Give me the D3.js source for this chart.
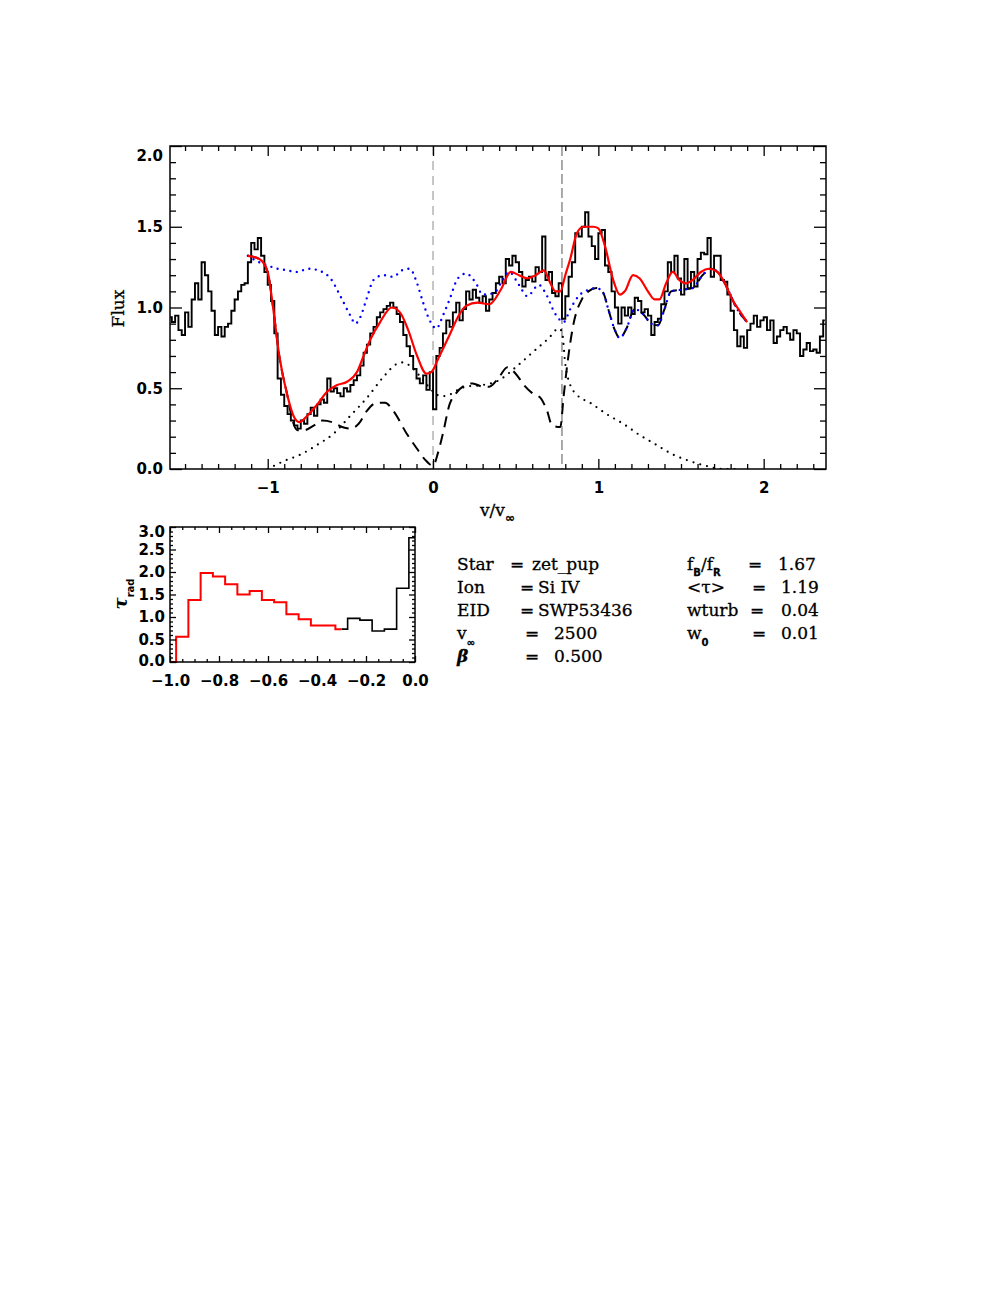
<!DOCTYPE html>
<html><head><meta charset="utf-8">
<script src="https://cdn.jsdelivr.net/npm/d3@7"></script>
<style>body{margin:0;background:#fff}</style>
</head><body>
<svg id="c" width="997" height="1290" xmlns="http://www.w3.org/2000/svg"></svg>
<script>
// ---------------- DATA ----------------
// observed spectrum: regular velocity grid starting at specStart with step specStep
const specStart = -1.59, specStep = 0.02;
const specFlux = [
0.94,0.91,0.95,0.86,0.83,0.97,0.88,1.05,1.15,1.05,
1.28,1.20,1.10,0.98,0.83,0.88,0.82,0.88,0.90,0.98,
1.05,1.10,1.14,1.15,1.28,1.40,1.36,1.43,1.32,1.22,
1.14,1.04,0.84,0.56,0.46,0.39,0.34,0.30,0.27,0.25,
0.30,0.28,0.34,0.38,0.33,0.40,0.43,0.41,0.56,0.48,
0.50,0.47,0.45,0.50,0.48,0.52,0.55,0.58,0.64,0.72,
0.77,0.84,0.88,0.94,0.97,0.99,1.01,1.03,1.00,0.96,
0.91,0.83,0.76,0.70,0.62,0.56,0.53,0.58,0.49,0.60,
0.37,0.70,0.75,0.84,0.92,0.88,0.97,1.03,0.92,0.99,
1.10,1.05,1.11,1.06,1.03,1.07,0.98,1.05,1.09,1.15,
1.19,1.15,1.30,1.26,1.32,1.28,1.22,1.13,1.17,1.19,
1.16,1.25,1.22,1.44,1.17,1.22,1.09,1.07,1.15,0.93,
1.07,1.19,1.28,1.46,1.44,1.50,1.59,1.44,1.38,1.30,
1.46,1.48,1.26,1.22,1.10,1.00,0.90,1.00,0.95,1.00,
0.96,1.06,1.04,0.97,0.99,0.95,0.83,0.91,0.93,1.02,
1.10,1.28,1.22,1.32,1.18,1.08,1.30,1.12,1.22,1.13,
1.30,1.34,1.33,1.43,1.19,1.32,1.32,1.17,1.16,1.08,
0.98,0.86,0.76,0.82,0.75,0.86,0.90,0.95,0.88,0.92,
0.94,0.86,0.92,0.78,0.82,0.86,0.88,0.84,0.80,0.86,
0.84,0.70,0.74,0.78,0.73,0.74,0.72,0.82,0.92
];
// model fit (red)
const modelV = [-1.12,-1.05,-1.00,-0.97,-0.93,-0.88,-0.84,-0.81,-0.76,-0.70,-0.64,-0.58,-0.52,-0.46,-0.42,-0.38,-0.32,-0.25,-0.20,-0.15,-0.10,-0.04,-0.01,0.03,0.10,0.15,0.20,0.27,0.34,0.41,0.47,0.52,0.57,0.62,0.67,0.71,0.74,0.77,0.80,0.83,0.87,0.91,0.97,1.00,1.04,1.09,1.13,1.16,1.21,1.25,1.30,1.34,1.37,1.41,1.45,1.49,1.53,1.57,1.62,1.67,1.72,1.76,1.81,1.86,1.90];
const modelFlux = [1.32,1.30,1.22,1.02,0.70,0.45,0.32,0.29,0.33,0.40,0.48,0.52,0.54,0.60,0.70,0.80,0.91,1.00,0.97,0.86,0.71,0.59,0.60,0.68,0.83,0.94,1.01,1.03,1.02,1.11,1.22,1.20,1.18,1.20,1.23,1.15,1.10,1.10,1.20,1.30,1.46,1.50,1.50,1.49,1.38,1.17,1.08,1.10,1.20,1.18,1.10,1.05,1.05,1.15,1.22,1.17,1.15,1.17,1.22,1.24,1.22,1.16,1.05,0.97,0.91];
// photospheric profile (blue dotted)
const photV = [-1.12,-1.05,-1.00,-0.94,-0.88,-0.83,-0.75,-0.67,-0.62,-0.56,-0.50,-0.47,-0.44,-0.40,-0.36,-0.30,-0.24,-0.19,-0.14,-0.10,-0.06,-0.02,0.02,0.06,0.10,0.15,0.20,0.26,0.30,0.37,0.41,0.46,0.52,0.57,0.64,0.68,0.74,0.79,0.83,0.88,0.94,0.99,1.03,1.06,1.10,1.13,1.17,1.22,1.27,1.32,1.36,1.40,1.44,1.50,1.57,1.63,1.68,1.73,1.77,1.84,1.90];
const photFlux = [1.32,1.28,1.26,1.24,1.23,1.22,1.24,1.22,1.18,1.07,0.95,0.90,0.94,1.06,1.17,1.20,1.19,1.23,1.24,1.16,1.03,0.92,0.87,0.95,1.05,1.18,1.21,1.15,1.08,1.09,1.15,1.22,1.14,1.07,1.14,1.09,0.96,0.91,0.99,1.07,1.11,1.12,1.09,0.99,0.86,0.81,0.87,0.99,0.96,0.90,0.89,0.99,1.10,1.11,1.12,1.20,1.24,1.21,1.14,0.99,0.91];
// absorption component (black dashed)
const absV = [-1.12,-1.05,-1.00,-0.97,-0.93,-0.88,-0.85,-0.82,-0.78,-0.72,-0.67,-0.61,-0.55,-0.50,-0.45,-0.40,-0.34,-0.29,-0.24,-0.16,-0.10,-0.05,0.00,0.03,0.06,0.10,0.14,0.18,0.24,0.30,0.34,0.40,0.45,0.50,0.55,0.60,0.65,0.69,0.72,0.77,0.79,0.81,0.85,0.90,0.94,0.99,1.03,1.06,1.10,1.13,1.17,1.22,1.27,1.32,1.36,1.40,1.44,1.50,1.57,1.63,1.68,1.73,1.77,1.84,1.90];
const absFlux = [1.32,1.30,1.22,1.02,0.70,0.45,0.30,0.24,0.24,0.27,0.30,0.29,0.26,0.25,0.28,0.36,0.41,0.41,0.36,0.22,0.13,0.06,0.02,0.10,0.22,0.40,0.47,0.51,0.53,0.51,0.51,0.57,0.63,0.59,0.52,0.47,0.44,0.36,0.27,0.26,0.45,0.63,0.90,1.05,1.10,1.12,1.09,0.99,0.86,0.81,0.87,0.99,0.96,0.90,0.89,0.99,1.10,1.11,1.12,1.20,1.24,1.21,1.14,0.99,0.91];
// emission component (black dotted)
const emV = [-1.00,-0.90,-0.80,-0.70,-0.60,-0.50,-0.40,-0.30,-0.22,-0.18,-0.12,-0.06,0.00,0.05,0.10,0.15,0.20,0.30,0.40,0.50,0.60,0.70,0.76,0.78,0.80,0.83,0.87,0.95,1.05,1.15,1.25,1.35,1.45,1.55,1.65,1.75,1.84];
const emFlux = [0.00,0.05,0.09,0.15,0.22,0.33,0.44,0.57,0.65,0.66,0.62,0.55,0.48,0.45,0.46,0.49,0.51,0.52,0.55,0.63,0.72,0.81,0.87,0.85,0.65,0.52,0.46,0.41,0.34,0.28,0.21,0.15,0.09,0.05,0.02,0.00,0.00];
// vertical reference lines
const markV = [0, 0.78];
// axes
const xDomain = [-1.591, 2.377], yDomain = [0, 2];
const xMajor = [-1, 0, 1, 2];
const yMajor = [0, 0.5, 1.0, 1.5, 2.0];
// radial optical depth histogram
const tauV = [-1.00,-0.95,-0.90,-0.85,-0.80,-0.75,-0.70,-0.65,-0.60,-0.55,-0.50,-0.45,-0.40,-0.35,-0.30,-0.25,-0.20,-0.15,-0.10,-0.05,0.00];
const tauVal = [0.00,0.56,1.38,1.98,1.90,1.73,1.50,1.58,1.38,1.33,1.06,0.95,0.81,0.81,0.73,0.97,0.93,0.69,0.73,1.64,2.76];
const tauRedEnd = -0.30;
const tXMajor = [-1.0,-0.8,-0.6,-0.4,-0.2,0.0];
const tYMajor = [0,0.5,1.0,1.5,2.0,2.5,3.0];
// parameters
const paramsLeft = [
  ["Star", "zet_pup"], ["Ion", "Si IV"], ["EID", "SWP53436"], ["v", "2500", "∞"], ["β", "0.500"]
];
const paramsRight = [
  ["f", "1.67"], ["<τ>", "1.19"], ["wturb", "0.04"], ["w", "0.01", "0"]
];

// ---------------- DRAW ----------------
const svg = d3.select("#c");
const minus = s => String(s).replace("-", "−");
const tickFont = "DejaVu Sans, sans-serif";
const serif = "DejaVu Serif, serif";

// main panel
const M = {l:170, r:826, t:146, b:469};
const x = d3.scaleLinear().domain(xDomain).range([M.l, M.r]);
const y = d3.scaleLinear().domain(yDomain).range([M.b, M.t]);
const g = svg.append("g");

svg.append("clipPath").attr("id","mc").append("rect")
  .attr("x",M.l).attr("y",M.t).attr("width",M.r-M.l).attr("height",M.b-M.t);

// reference vertical lines
g.selectAll("line.mark").data(markV).join("line")
  .attr("x1", d=>x(d)).attr("x2", d=>x(d)).attr("y1", M.t).attr("y2", M.b)
  .attr("stroke", (d,i)=> i===0 ? "#a8a8a8" : "#555555")
  .attr("stroke-width", (d,i)=> i===0 ? 1.3 : 1.0)
  .attr("stroke-dasharray", (d,i)=> i===0 ? "9,6" : "10,4");

const specData = specFlux.map((f,i)=>[specStart + i*specStep, f]);
const lineStep = d3.line().x(d=>x(d[0])).y(d=>y(d[1])).curve(d3.curveStep);
const lineSm = d3.line().x(d=>x(d[0])).y(d=>y(d[1])).curve(d3.curveMonotoneX);
const pg = g.append("g").attr("clip-path","url(#mc)");

pg.append("path").datum(specData).attr("d", lineStep)
  .attr("fill","none").attr("stroke","#000").attr("stroke-width",1.9).attr("stroke-linejoin","miter");

pg.append("path").datum(emV.map((v,i)=>[v,emFlux[i]])).attr("d", lineSm)
  .attr("fill","none").attr("stroke","#000").attr("stroke-width",2.2)
  .attr("stroke-linecap","round").attr("stroke-dasharray","0,7");

pg.append("path").datum(absV.map((v,i)=>[v,absFlux[i]])).attr("d", lineSm)
  .attr("fill","none").attr("stroke","#000").attr("stroke-width",2)
  .attr("stroke-dasharray","11,7");

pg.append("path").datum(photV.map((v,i)=>[v,photFlux[i]])).attr("d", lineSm)
  .attr("fill","none").attr("stroke","#0000ff").attr("stroke-width",2.4)
  .attr("stroke-linecap","round").attr("stroke-dasharray","0,6.5");

pg.append("path").datum(modelV.map((v,i)=>[v,modelFlux[i]])).attr("d", lineSm)
  .attr("fill","none").attr("stroke","#ff0000").attr("stroke-width",2.2);

// axes (ticks inward)
function minorTicks(dom, step, majors){
  const out=[]; const n0=Math.ceil(dom[0]/step-1e-9), n1=Math.floor(dom[1]/step+1e-9);
  for(let k=n0;k<=n1;k++){ const v=+(k*step).toFixed(4); if(!majors.some(m=>Math.abs(m-v)<1e-6)) out.push(v);} return out;
}
function styleAxis(sel, fs, weight){
  sel.select(".domain").remove();
  sel.selectAll("line").attr("stroke","#000").attr("stroke-width",1.3);
  sel.selectAll("text").attr("font-family",tickFont).attr("font-size",fs).attr("font-weight",weight).attr("fill","#000");
}
const xMinor = minorTicks(xDomain, 0.1, xMajor);
const yMinor = minorTicks(yDomain, 0.1, yMajor);

svg.append("g").attr("transform",`translate(0,${M.b})`)
  .call(d3.axisBottom(x).tickValues(xMajor).tickSize(-10).tickPadding(13).tickFormat(d=>minus(d)))
  .call(s=>styleAxis(s,15,"bold"));
svg.append("g").attr("transform",`translate(0,${M.b})`)
  .call(d3.axisBottom(x).tickValues(xMinor).tickSize(-5).tickFormat("")).call(s=>styleAxis(s,15,"bold"));
svg.append("g").attr("transform",`translate(0,${M.t})`)
  .call(d3.axisTop(x).tickValues(xMajor).tickSize(-10).tickFormat("")).call(s=>styleAxis(s,15,"bold"));
svg.append("g").attr("transform",`translate(0,${M.t})`)
  .call(d3.axisTop(x).tickValues(xMinor).tickSize(-5).tickFormat("")).call(s=>styleAxis(s,15,"bold"));
const yl = svg.append("g").attr("transform",`translate(${M.l},0)`)
  .call(d3.axisLeft(y).tickValues(yMajor).tickSize(-12).tickPadding(7).tickFormat(d3.format(".1f")))
  .call(s=>styleAxis(s,15,"bold"));
yl.selectAll(".tick text").attr("dy", d => d===yDomain[1] ? "0.95em" : "0.32em");
svg.append("g").attr("transform",`translate(${M.l},0)`)
  .call(d3.axisLeft(y).tickValues(yMinor).tickSize(-6).tickFormat("")).call(s=>styleAxis(s,15,"bold"));
svg.append("g").attr("transform",`translate(${M.r},0)`)
  .call(d3.axisRight(y).tickValues(yMajor).tickSize(-12).tickFormat("")).call(s=>styleAxis(s,15,"bold"));
svg.append("g").attr("transform",`translate(${M.r},0)`)
  .call(d3.axisRight(y).tickValues(yMinor).tickSize(-6).tickFormat("")).call(s=>styleAxis(s,15,"bold"));

svg.append("rect").attr("x",M.l).attr("y",M.t).attr("width",M.r-M.l).attr("height",M.b-M.t)
  .attr("fill","none").attr("stroke","#000").attr("stroke-width",1.5);

// axis titles
svg.append("text").attr("transform",`translate(124,${(M.t+M.b)/2+1}) rotate(-90)`)
  .attr("text-anchor","middle").attr("font-family",serif).attr("font-size",17)
  .attr("stroke","#000").attr("stroke-width",0.3).text("Flux");
const xt = svg.append("text").attr("x",480).attr("y",516).attr("font-family",serif).attr("font-size",17)
  .attr("stroke","#000").attr("stroke-width",0.3);
xt.append("tspan").text("v/v");
xt.append("tspan").attr("dy",6).attr("font-size",12).attr("font-weight","bold").attr("font-family",tickFont).text("∞");

// ---------------- tau panel ----------------
const T = {l:170, r:415, t:527, b:662};
const tx = d3.scaleLinear().domain([-1,0]).range([T.l,T.r]);
const ty = d3.scaleLinear().domain([0,3]).range([T.b,T.t]);
const tLine = d3.line().x(d=>tx(d[0])).y(d=>ty(d[1])).curve(d3.curveStep);
const tauData = tauV.map((v,i)=>[v,tauVal[i]]);
svg.append("path").datum(tauData.filter(d=>d[0]>=tauRedEnd-1e-9)).attr("d",tLine)
  .attr("fill","none").attr("stroke","#000").attr("stroke-width",1.6);
svg.append("path").datum(tauData.filter(d=>d[0]<=tauRedEnd+1e-9)).attr("d",tLine)
  .attr("fill","none").attr("stroke","#ff0000").attr("stroke-width",2);

const tXMinor = minorTicks([-1,0],0.05,tXMajor);
const tYMinor = minorTicks([0,3],0.1,tYMajor);
svg.append("g").attr("transform",`translate(0,${T.b})`)
  .call(d3.axisBottom(tx).tickValues(tXMajor).tickSize(-6).tickPadding(13).tickFormat(d=>minus(d3.format(".1f")(d))))
  .call(s=>styleAxis(s,15,"bold"));
svg.append("g").attr("transform",`translate(0,${T.b})`)
  .call(d3.axisBottom(tx).tickValues(tXMinor).tickSize(-3).tickFormat("")).call(s=>styleAxis(s,15,"bold"));
svg.append("g").attr("transform",`translate(0,${T.t})`)
  .call(d3.axisTop(tx).tickValues(tXMajor).tickSize(-6).tickFormat("")).call(s=>styleAxis(s,15,"bold"));
svg.append("g").attr("transform",`translate(0,${T.t})`)
  .call(d3.axisTop(tx).tickValues(tXMinor).tickSize(-3).tickFormat("")).call(s=>styleAxis(s,15,"bold"));
const tyl = svg.append("g").attr("transform",`translate(${T.l},0)`)
  .call(d3.axisLeft(ty).tickValues(tYMajor).tickSize(-6).tickPadding(5).tickFormat(d3.format(".1f")))
  .call(s=>styleAxis(s,15,"bold"));
tyl.selectAll(".tick text").attr("dy", d => d===3 ? "0.62em" : (d===0 ? "0.2em" : "0.32em"));
svg.append("g").attr("transform",`translate(${T.l},0)`)
  .call(d3.axisLeft(ty).tickValues(tYMinor).tickSize(-3).tickFormat("")).call(s=>styleAxis(s,15,"bold"));
svg.append("g").attr("transform",`translate(${T.r},0)`)
  .call(d3.axisRight(ty).tickValues(tYMajor).tickSize(-6).tickFormat("")).call(s=>styleAxis(s,15,"bold"));
svg.append("g").attr("transform",`translate(${T.r},0)`)
  .call(d3.axisRight(ty).tickValues(tYMinor).tickSize(-3).tickFormat("")).call(s=>styleAxis(s,15,"bold"));
svg.append("rect").attr("x",T.l).attr("y",T.t).attr("width",T.r-T.l).attr("height",T.b-T.t)
  .attr("fill","none").attr("stroke","#000").attr("stroke-width",1.5);
const tt = svg.append("text").attr("transform","translate(127,594) rotate(-90)")
  .attr("text-anchor","middle").attr("font-family",serif).attr("font-size",18).attr("font-weight","bold");
tt.append("tspan").attr("font-style","italic").text("τ");
tt.append("tspan").attr("dy",7).attr("font-size",10).attr("font-family",tickFont).text("rad");

// ---------------- parameter text ----------------
const rowY = [570, 593, 616, 639, 662];
const txtStyle = t => t.attr("font-family",serif).attr("font-size",17).attr("stroke","#000").attr("stroke-width",0.3);
const leftCols = {lab:457, eq:[510,520,520,525,525], val:[532,538,538,554,554]};
paramsLeft.forEach((p,i)=>{
  const t = svg.append("text").attr("x",leftCols.lab).attr("y",rowY[i]).call(txtStyle);
  if(p[0]==="β") t.attr("font-style","italic").attr("font-weight","bold");
  t.append("tspan").text(p[0]);
  if(p[2]) t.append("tspan").attr("dy",7).attr("font-size",10).attr("font-weight","bold").attr("font-family",tickFont).text(p[2]);
  svg.append("text").attr("x",leftCols.eq[i]).attr("y",rowY[i]).call(txtStyle).text("=");
  svg.append("text").attr("x",leftCols.val[i]).attr("y",rowY[i]).call(txtStyle).text(p[1]);
});
const rightCols = {lab:687, eq:[748,752,750,752], val:[778,781,781,781]};
paramsRight.forEach((p,i)=>{
  const t = svg.append("text").attr("x",rightCols.lab).attr("y",rowY[i]).call(txtStyle);
  if(i===0){
    t.append("tspan").text("f");
    t.append("tspan").attr("dy",6).attr("font-size",10).attr("font-weight","bold").attr("font-family",tickFont).text("B");
    t.append("tspan").attr("dy",-6).text("/f");
    t.append("tspan").attr("dy",6).attr("font-size",10).attr("font-weight","bold").attr("font-family",tickFont).text("R");
  } else {
    t.append("tspan").text(p[0]);
    if(p[2]) t.append("tspan").attr("dy",7).attr("font-size",10).attr("font-weight","bold").attr("font-family",tickFont).text(p[2]);
  }
  svg.append("text").attr("x",rightCols.eq[i]).attr("y",rowY[i]).call(txtStyle).text("=");
  svg.append("text").attr("x",rightCols.val[i]).attr("y",rowY[i]).call(txtStyle).text(p[1]);
});
</script>
</body></html>
